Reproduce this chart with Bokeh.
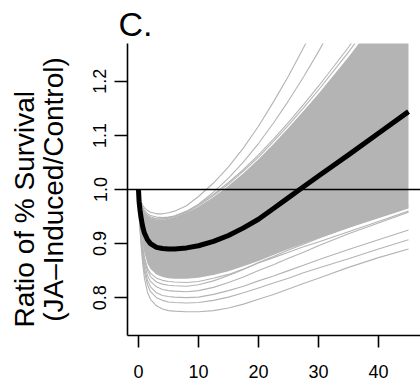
from bokeh.plotting import figure
from bokeh.models import Range1d, FixedTicker, Span, Title
from bokeh.embed import file_html
from bokeh.resources import INLINE

days = [0, 0.1, 0.25, 0.5, 0.75, 1, 1.5, 2, 3, 4, 5, 6, 8, 10, 12.5, 15,
        17.5, 20, 22.5, 25, 27.5, 30, 35, 40, 45]

# thick black (fitted) curve
fit_ratio = [1.0, 0.978, 0.962, 0.943, 0.929, 0.919, 0.907, 0.900, 0.893, 0.891,
             0.890, 0.890, 0.892, 0.896, 0.904, 0.915, 0.929, 0.945, 0.965, 0.985,
             1.005, 1.025, 1.064, 1.104, 1.144]

# dense bundle of gray bootstrap curves: lower and upper envelope
band_low = [1.0, 0.975, 0.950, 0.920, 0.897, 0.882, 0.863, 0.853, 0.843, 0.838,
            0.836, 0.835, 0.835, 0.837, 0.842, 0.849, 0.858, 0.868, 0.879, 0.890,
            0.900, 0.910, 0.929, 0.947, 0.965]
band_high = [1.0, 0.990, 0.978, 0.968, 0.961, 0.956, 0.950, 0.947, 0.944, 0.944,
             0.946, 0.949, 0.957, 0.968, 0.986, 1.007, 1.030, 1.056, 1.084, 1.114,
             1.145, 1.177, 1.245, 1.318, 1.395]

# individual gray curves outside / on the edge of the dense bundle
gray_curves = [
    [1.0, 0.993, 0.985, 0.976, 0.970, 0.966, 0.961, 0.958, 0.955, 0.955, 0.957, 0.960, 0.970,
     0.987, 1.012, 1.042, 1.077, 1.117, 1.162, 1.210, 1.262, 1.316, 1.430, 1.550, 1.675],
    [1.0, 0.992, 0.983, 0.972, 0.965, 0.961, 0.955, 0.952, 0.949, 0.948, 0.949, 0.951, 0.959,
     0.973, 0.995, 1.021, 1.051, 1.085, 1.123, 1.164, 1.208, 1.255, 1.355, 1.465, 1.580],
    [1.0, 0.991, 0.980, 0.970, 0.963, 0.958, 0.952, 0.949, 0.946, 0.946, 0.948, 0.951, 0.960,
     0.972, 0.991, 1.013, 1.037, 1.064, 1.093, 1.124, 1.157, 1.191, 1.263, 1.340, 1.420],
    [1.0, 0.990, 0.979, 0.969, 0.962, 0.957, 0.951, 0.948, 0.945, 0.945, 0.947, 0.950, 0.958,
     0.970, 0.989, 1.010, 1.034, 1.060, 1.089, 1.119, 1.151, 1.184, 1.254, 1.330, 1.410],
    [1.0, 0.955, 0.925, 0.887, 0.858, 0.835, 0.810, 0.797, 0.785, 0.779, 0.776, 0.775, 0.774,
     0.774, 0.776, 0.781, 0.788, 0.797, 0.806, 0.816, 0.826, 0.836, 0.856, 0.874, 0.890],
    [1.0, 0.958, 0.930, 0.895, 0.868, 0.847, 0.824, 0.811, 0.800, 0.795, 0.792, 0.791, 0.790,
     0.791, 0.795, 0.801, 0.809, 0.818, 0.827, 0.836, 0.846, 0.855, 0.872, 0.890, 0.907],
    [1.0, 0.960, 0.934, 0.900, 0.874, 0.854, 0.832, 0.820, 0.809, 0.804, 0.802, 0.801, 0.800,
     0.801, 0.806, 0.813, 0.821, 0.831, 0.840, 0.850, 0.860, 0.870, 0.889, 0.907, 0.925],
    [1.0, 0.962, 0.937, 0.905, 0.881, 0.862, 0.841, 0.830, 0.820, 0.815, 0.813, 0.812, 0.811,
     0.813, 0.819, 0.828, 0.838, 0.850, 0.861, 0.873, 0.884, 0.896, 0.918, 0.938, 0.958],
    [1.0, 0.964, 0.941, 0.910, 0.887, 0.869, 0.850, 0.839, 0.829, 0.825, 0.823, 0.822, 0.821,
     0.824, 0.831, 0.841, 0.852, 0.865, 0.876, 0.888, 0.899, 0.910, 0.930, 0.950, 0.970],
    [1.0, 0.966, 0.943, 0.914, 0.892, 0.874, 0.855, 0.845, 0.836, 0.832, 0.830, 0.829, 0.828,
     0.830, 0.836, 0.843, 0.853, 0.864, 0.874, 0.884, 0.894, 0.903, 0.922, 0.941, 0.960],
]

x_ticks = [0, 10, 20, 30, 40]
y_ticks = [0.8, 0.9, 1.0, 1.1, 1.2]
y_tick_labels = ["0.8", "0.9", "1.0", "1.1", "1.2"]
reference_level = 1.0

panel_label = "C."
y_title_line1 = "Ratio of % Survival"
y_title_line2 = "(JA–Induced/Control)"

FONT = "Liberation Sans"
GRAY = "#b4b4b4"

p = figure(width=420, height=387, output_backend="svg", toolbar_location=None,
           x_range=Range1d(-1.83, 47.0), y_range=Range1d(0.73, 1.27),
           min_border_left=127, min_border_right=0, min_border_top=43,
           min_border_bottom=52)
p.title.visible = False
p.outline_line_color = None
p.grid.visible = False
p.background_fill_color = "white"
p.border_fill_color = "white"

p.varea(x=days, y1=band_low, y2=band_high, fill_color=GRAY, fill_alpha=1.0)
p.multi_line(xs=[days] * len(gray_curves), ys=gray_curves, line_color=GRAY,
             line_width=1.1)

p.add_layout(Span(location=reference_level, dimension="width",
                  line_color="black", line_width=1.6))

p.line(days, fit_ratio, line_color="black", line_width=5)

for ax in (p.xaxis, p.yaxis):
    ax.axis_line_width = 1.6
    ax.axis_line_color = "black"
    ax.major_tick_line_width = 1.6
    ax.major_tick_line_color = "black"
    ax.major_tick_in = 0
    ax.minor_tick_line_color = None
    ax.major_label_text_font = FONT
    ax.major_label_text_font_size = "18px"
    ax.major_label_text_color = "black"

p.xaxis.ticker = FixedTicker(ticks=x_ticks)
p.xaxis.major_tick_out = 12
p.xaxis.major_label_standoff = 17

p.yaxis.ticker = FixedTicker(ticks=y_ticks)
p.yaxis.major_label_overrides = {t: s for t, s in zip(y_ticks, y_tick_labels)}
p.yaxis.major_tick_out = 13
p.yaxis.major_label_standoff = 8
p.yaxis.major_label_orientation = "vertical"

# inner line of the y-axis title
p.yaxis.axis_label = y_title_line2
p.yaxis.axis_label_text_font = FONT
p.yaxis.axis_label_text_font_size = "28px"
p.yaxis.axis_label_text_font_style = "normal"
p.yaxis.axis_label_text_color = "black"
p.yaxis.axis_label_standoff = 22

# outer line of the y-axis title (starts a little above the frame bottom)
p.add_layout(Title(text=y_title_line1, text_font=FONT, text_font_size="28px",
                   text_font_style="normal", text_color="black", align="left",
                   offset=8, standoff=-10), "left")

# panel letter above the frame
p.add_layout(Title(text=panel_label, text_font=FONT, text_font_size="34px",
                   text_font_style="normal", text_color="black", align="left",
                   offset=-9, standoff=2), "above")

open("out.html", "w").write(file_html(p, INLINE))
